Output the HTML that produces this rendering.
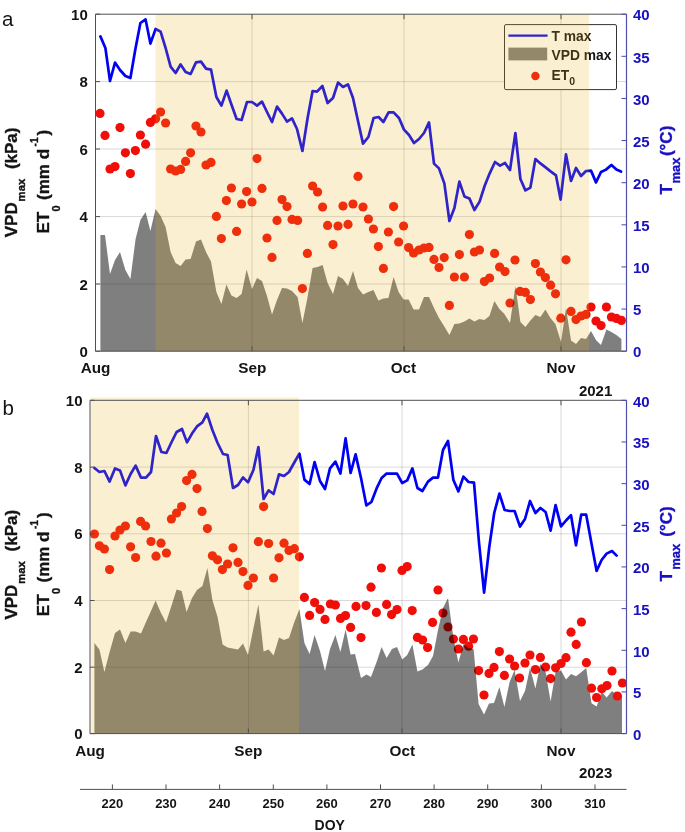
<!DOCTYPE html>
<html lang="en"><head><meta charset="utf-8"><title>Figure</title>
<style>html,body{margin:0;padding:0;background:#fff}svg{display:block}</style></head>
<body>
<svg width="685" height="832" viewBox="0 0 685 832">
<rect width="685" height="832" fill="#fff"/>
<g id="pa">
<line x1="252" y1="14.2" x2="252" y2="351.2" stroke="#000" stroke-opacity="0.15" stroke-width="1"/>
<line x1="404" y1="14.2" x2="404" y2="351.2" stroke="#000" stroke-opacity="0.15" stroke-width="1"/>
<line x1="561" y1="14.2" x2="561" y2="351.2" stroke="#000" stroke-opacity="0.15" stroke-width="1"/>
<line x1="95.5" y1="81.6" x2="626.5" y2="81.6" stroke="#000" stroke-opacity="0.15" stroke-width="1"/>
<line x1="95.5" y1="149" x2="626.5" y2="149" stroke="#000" stroke-opacity="0.15" stroke-width="1"/>
<line x1="95.5" y1="216.6" x2="626.5" y2="216.6" stroke="#000" stroke-opacity="0.15" stroke-width="1"/>
<line x1="95.5" y1="284" x2="626.5" y2="284" stroke="#000" stroke-opacity="0.15" stroke-width="1"/>
<g fill="#f00e08"><circle cx="100" cy="113.4" r="4.6"/><circle cx="105" cy="135.4" r="4.6"/><circle cx="110" cy="169" r="4.6"/><circle cx="115" cy="166.6" r="4.6"/><circle cx="120" cy="127.6" r="4.6"/><circle cx="125.4" cy="152.8" r="4.6"/><circle cx="130.4" cy="173.6" r="4.6"/><circle cx="135.4" cy="150.6" r="4.6"/><circle cx="140.4" cy="135" r="4.6"/><circle cx="145.6" cy="144.2" r="4.6"/><circle cx="150.4" cy="122.4" r="4.6"/><circle cx="155.6" cy="118.8" r="4.6"/><circle cx="160.6" cy="112" r="4.6"/><circle cx="165.6" cy="123" r="4.6"/><circle cx="170.6" cy="169" r="4.6"/><circle cx="175.6" cy="171" r="4.6"/><circle cx="180.6" cy="169.4" r="4.6"/><circle cx="185.6" cy="161.4" r="4.6"/><circle cx="190.6" cy="152.8" r="4.6"/><circle cx="196" cy="126" r="4.6"/><circle cx="201" cy="132" r="4.6"/><circle cx="206" cy="165" r="4.6"/><circle cx="211" cy="162.4" r="4.6"/><circle cx="216.4" cy="216.4" r="4.6"/><circle cx="221.4" cy="238.6" r="4.6"/><circle cx="226.4" cy="200.6" r="4.6"/><circle cx="231.4" cy="188" r="4.6"/><circle cx="236.6" cy="231.4" r="4.6"/><circle cx="241.6" cy="204" r="4.6"/><circle cx="246.6" cy="191.6" r="4.6"/><circle cx="252" cy="202" r="4.6"/><circle cx="257" cy="158.6" r="4.6"/><circle cx="262" cy="188.4" r="4.6"/><circle cx="267" cy="238" r="4.6"/><circle cx="272" cy="257.4" r="4.6"/><circle cx="277" cy="220.4" r="4.6"/><circle cx="282" cy="199.6" r="4.6"/><circle cx="287" cy="206.6" r="4.6"/><circle cx="292" cy="219.4" r="4.6"/><circle cx="297.6" cy="220.4" r="4.6"/><circle cx="302.4" cy="288.6" r="4.6"/><circle cx="307.4" cy="253.4" r="4.6"/><circle cx="312.6" cy="186" r="4.6"/><circle cx="317.6" cy="192" r="4.6"/><circle cx="322.6" cy="207" r="4.6"/><circle cx="327.6" cy="225.4" r="4.6"/><circle cx="333" cy="244.6" r="4.6"/><circle cx="338" cy="226" r="4.6"/><circle cx="343" cy="206" r="4.6"/><circle cx="348" cy="224.4" r="4.6"/><circle cx="353" cy="204" r="4.6"/><circle cx="358" cy="176.4" r="4.6"/><circle cx="363" cy="207" r="4.6"/><circle cx="368.4" cy="219" r="4.6"/><circle cx="373.4" cy="229" r="4.6"/><circle cx="378.4" cy="246.6" r="4.6"/><circle cx="383.4" cy="268.4" r="4.6"/><circle cx="388.4" cy="232" r="4.6"/><circle cx="393.6" cy="206.6" r="4.6"/><circle cx="398.6" cy="242" r="4.6"/><circle cx="403.6" cy="226" r="4.6"/><circle cx="408.6" cy="247.6" r="4.6"/><circle cx="413.6" cy="253" r="4.6"/><circle cx="419" cy="250" r="4.6"/><circle cx="424" cy="248" r="4.6"/><circle cx="429" cy="247.4" r="4.6"/><circle cx="434" cy="259.4" r="4.6"/><circle cx="439" cy="267.5" r="4.6"/><circle cx="444.2" cy="257.6" r="4.6"/><circle cx="449.4" cy="305.4" r="4.6"/><circle cx="454.4" cy="277" r="4.6"/><circle cx="459.4" cy="254.6" r="4.6"/><circle cx="464.4" cy="277" r="4.6"/><circle cx="469.4" cy="234.5" r="4.6"/><circle cx="474.4" cy="252" r="4.6"/><circle cx="479.5" cy="250" r="4.6"/><circle cx="484.4" cy="281.6" r="4.6"/><circle cx="489.6" cy="278" r="4.6"/><circle cx="494.6" cy="253.4" r="4.6"/><circle cx="499.6" cy="267" r="4.6"/><circle cx="505" cy="271.6" r="4.6"/><circle cx="510" cy="303" r="4.6"/><circle cx="515" cy="260" r="4.6"/><circle cx="520" cy="291.4" r="4.6"/><circle cx="525.4" cy="292.4" r="4.6"/><circle cx="530.4" cy="299.6" r="4.6"/><circle cx="535.4" cy="263.6" r="4.6"/><circle cx="540.4" cy="272" r="4.6"/><circle cx="545.4" cy="277.6" r="4.6"/><circle cx="550.6" cy="285.2" r="4.6"/><circle cx="555.5" cy="293.8" r="4.6"/><circle cx="560.8" cy="318.2" r="4.6"/><circle cx="566" cy="259.8" r="4.6"/><circle cx="571" cy="311.4" r="4.6"/><circle cx="576" cy="319.6" r="4.6"/><circle cx="581" cy="316" r="4.6"/><circle cx="586" cy="314.4" r="4.6"/><circle cx="591" cy="307" r="4.6"/><circle cx="596" cy="321" r="4.6"/><circle cx="601" cy="325.6" r="4.6"/><circle cx="606.4" cy="307" r="4.6"/><circle cx="611.4" cy="317" r="4.6"/><circle cx="616.4" cy="318.4" r="4.6"/><circle cx="621.4" cy="320.4" r="4.6"/></g>
<polygon points="100.4,351.2 100.4,235.0 105.0,235.0 110.0,274.0 115.0,260.0 120.0,252.0 125.4,270.0 130.4,279.0 135.6,239.0 140.4,220.0 145.6,212.0 150.4,231.0 155.6,209.0 160.6,216.0 165.6,227.0 170.6,252.0 175.6,263.0 180.6,266.0 185.6,259.6 190.6,259.0 196.0,241.6 201.0,239.6 206.0,252.0 211.0,261.6 216.4,292.0 221.4,304.0 226.4,284.4 231.4,295.6 236.6,298.0 241.6,294.0 246.6,269.6 252.0,289.0 257.0,278.0 262.0,281.0 267.0,296.0 272.0,314.4 277.0,300.0 282.0,288.0 287.0,288.6 292.0,291.0 297.6,297.0 302.4,323.0 307.4,298.0 312.6,268.0 317.6,267.0 322.6,265.0 327.6,283.0 333.0,294.0 338.0,276.0 343.0,279.0 348.0,286.0 353.0,271.0 358.0,288.0 363.0,294.6 368.4,292.0 373.4,290.0 378.4,300.4 383.4,298.4 388.4,298.0 393.6,277.0 398.6,292.0 403.6,299.6 408.6,299.6 413.6,309.6 419.0,309.6 424.0,297.0 429.0,297.0 434.0,308.0 439.0,318.0 444.0,326.0 449.4,335.0 454.4,324.0 459.4,323.6 464.4,321.6 469.4,318.4 474.4,321.6 479.4,319.0 484.4,320.0 489.4,316.0 494.4,301.0 499.4,309.0 504.4,314.0 510.0,323.0 515.4,286.0 520.4,322.0 525.4,327.0 530.4,320.4 535.4,315.0 540.4,317.0 545.4,309.6 550.4,318.0 555.4,324.0 561.0,342.0 566.0,308.0 571.0,340.4 576.0,344.0 581.0,338.0 586.0,339.0 591.0,331.0 596.0,340.0 601.0,345.0 606.4,329.4 611.4,332.0 616.4,335.0 621.4,339.0 621.4,351.2" fill="#000" fill-opacity="0.5"/>
<polyline points="100.4,36.4 105.4,48.0 110.0,81.0 115.0,62.6 120.0,70.0 125.4,76.0 130.4,78.0 135.4,49.0 140.4,23.0 145.6,19.4 150.4,43.6 155.6,29.0 160.6,31.6 165.6,48.0 170.6,66.6 175.6,73.0 180.6,64.4 185.6,72.0 190.6,74.0 196.0,62.4 201.0,61.6 206.0,68.6 211.0,69.6 216.4,97.0 221.4,105.6 226.6,90.6 231.6,105.0 236.6,119.0 241.6,120.0 247.0,102.0 252.0,102.0 257.0,105.6 262.0,101.6 267.0,112.0 272.0,122.0 277.0,106.6 282.0,113.6 287.0,121.6 292.0,118.4 297.0,129.0 302.4,151.0 307.6,118.0 312.6,91.0 317.0,91.6 322.4,86.0 327.6,103.0 333.0,98.0 338.0,82.6 343.0,87.0 348.0,84.4 353.0,98.0 358.0,121.0 363.0,143.6 368.4,137.0 373.6,118.0 378.6,117.0 383.4,122.0 388.6,112.4 393.6,112.4 399.0,118.0 404.0,129.6 409.0,135.0 414.0,143.0 419.0,139.0 424.0,133.0 429.0,122.4 434.0,163.6 439.0,168.4 444.4,183.6 449.4,221.0 454.4,208.0 459.4,181.6 464.4,196.4 469.4,198.4 474.4,210.0 479.6,201.6 484.6,186.0 489.6,173.6 495.0,162.0 500.0,165.6 505.0,163.0 510.0,170.0 515.4,133.0 520.4,179.0 525.4,190.4 530.4,187.6 535.4,159.0 540.4,163.4 545.6,167.4 550.6,171.4 556.0,175.4 560.6,199.6 566.0,154.4 571.0,181.0 576.0,168.0 581.0,176.0 586.0,171.0 591.0,170.6 596.0,182.4 601.0,172.0 606.0,169.6 611.4,165.0 616.4,169.6 621.0,171.6" fill="none" stroke="#0000f5" stroke-width="2.7" stroke-linejoin="round" stroke-linecap="round"/>
<rect x="504.5" y="24.6" width="112" height="65" rx="1.5" fill="#fff" stroke="#333" stroke-width="1"/>
<line x1="508.4" y1="35.6" x2="547.6" y2="35.6" stroke="#0000f5" stroke-width="2.2"/>
<rect x="508.4" y="47.6" width="38.8" height="12.8" fill="#7f7f7f"/>
<circle cx="535.4" cy="76" r="4.2" fill="#f00e08"/>
<text x="551.6" y="41.4" font-size="13.8" font-family="Liberation Sans, Arial, Helvetica, sans-serif" font-weight="bold" fill="#141414">T max</text>
<text x="551.6" y="60" font-size="13.8" font-family="Liberation Sans, Arial, Helvetica, sans-serif" font-weight="bold" fill="#141414">VPD max</text>
<text x="551.6" y="79.6" font-size="13.8" font-family="Liberation Sans, Arial, Helvetica, sans-serif" font-weight="bold" fill="#141414">ET<tspan font-size="10.5" dy="5.5">0</tspan></text>
<rect x="155.5" y="14.2" width="433.5" height="337.0" fill="rgb(237,177,32)" fill-opacity="0.2"/>
<path d="M95.5 351.2V14.2H626.5" fill="none" stroke="#505050" stroke-width="1"/>
<path d="M95.5 351.2H626.5" fill="none" stroke="#505050" stroke-width="1"/>
<line x1="626.5" y1="14.2" x2="626.5" y2="351.2" stroke="#5050a8" stroke-width="1.2"/>
<line x1="95.5" y1="81.6" x2="100.0" y2="81.6" stroke="#505050" stroke-width="1"/>
<line x1="95.5" y1="149" x2="100.0" y2="149" stroke="#505050" stroke-width="1"/>
<line x1="95.5" y1="216.6" x2="100.0" y2="216.6" stroke="#505050" stroke-width="1"/>
<line x1="95.5" y1="284" x2="100.0" y2="284" stroke="#505050" stroke-width="1"/>
<line x1="95.5" y1="14.2" x2="100.0" y2="14.2" stroke="#505050" stroke-width="1"/>
<line x1="95.5" y1="351.2" x2="100.0" y2="351.2" stroke="#505050" stroke-width="1"/>
<line x1="252" y1="14.2" x2="252" y2="19.2" stroke="#505050" stroke-width="1"/>
<line x1="252" y1="351.2" x2="252" y2="346.2" stroke="#505050" stroke-width="1"/>
<line x1="404" y1="14.2" x2="404" y2="19.2" stroke="#505050" stroke-width="1"/>
<line x1="404" y1="351.2" x2="404" y2="346.2" stroke="#505050" stroke-width="1"/>
<line x1="561" y1="14.2" x2="561" y2="19.2" stroke="#505050" stroke-width="1"/>
<line x1="561" y1="351.2" x2="561" y2="346.2" stroke="#505050" stroke-width="1"/>
<line x1="626.5" y1="14.2" x2="621.5" y2="14.2" stroke="#4848a8" stroke-width="1"/>
<line x1="626.5" y1="56.325" x2="621.5" y2="56.325" stroke="#4848a8" stroke-width="1"/>
<line x1="626.5" y1="98.45" x2="621.5" y2="98.45" stroke="#4848a8" stroke-width="1"/>
<line x1="626.5" y1="140.575" x2="621.5" y2="140.575" stroke="#4848a8" stroke-width="1"/>
<line x1="626.5" y1="182.7" x2="621.5" y2="182.7" stroke="#4848a8" stroke-width="1"/>
<line x1="626.5" y1="224.825" x2="621.5" y2="224.825" stroke="#4848a8" stroke-width="1"/>
<line x1="626.5" y1="266.95" x2="621.5" y2="266.95" stroke="#4848a8" stroke-width="1"/>
<line x1="626.5" y1="309.075" x2="621.5" y2="309.075" stroke="#4848a8" stroke-width="1"/>
<line x1="626.5" y1="351.2" x2="621.5" y2="351.2" stroke="#4848a8" stroke-width="1"/>
<text x="87.8" y="19.8" text-anchor="end" font-size="15" font-family="Liberation Sans, Arial, Helvetica, sans-serif" font-weight="bold" fill="#141414">10</text>
<text x="87.8" y="87.2" text-anchor="end" font-size="15" font-family="Liberation Sans, Arial, Helvetica, sans-serif" font-weight="bold" fill="#141414">8</text>
<text x="87.8" y="154.6" text-anchor="end" font-size="15" font-family="Liberation Sans, Arial, Helvetica, sans-serif" font-weight="bold" fill="#141414">6</text>
<text x="87.8" y="222.2" text-anchor="end" font-size="15" font-family="Liberation Sans, Arial, Helvetica, sans-serif" font-weight="bold" fill="#141414">4</text>
<text x="87.8" y="289.6" text-anchor="end" font-size="15" font-family="Liberation Sans, Arial, Helvetica, sans-serif" font-weight="bold" fill="#141414">2</text>
<text x="87.8" y="356.8" text-anchor="end" font-size="15" font-family="Liberation Sans, Arial, Helvetica, sans-serif" font-weight="bold" fill="#141414">0</text>
<text x="633.0" y="20.4" font-size="15" font-family="Liberation Sans, Arial, Helvetica, sans-serif" font-weight="bold" fill="#1810c2">40</text>
<text x="633.0" y="62.5" font-size="15" font-family="Liberation Sans, Arial, Helvetica, sans-serif" font-weight="bold" fill="#1810c2">35</text>
<text x="633.0" y="104.7" font-size="15" font-family="Liberation Sans, Arial, Helvetica, sans-serif" font-weight="bold" fill="#1810c2">30</text>
<text x="633.0" y="146.8" font-size="15" font-family="Liberation Sans, Arial, Helvetica, sans-serif" font-weight="bold" fill="#1810c2">25</text>
<text x="633.0" y="188.9" font-size="15" font-family="Liberation Sans, Arial, Helvetica, sans-serif" font-weight="bold" fill="#1810c2">20</text>
<text x="633.0" y="231.0" font-size="15" font-family="Liberation Sans, Arial, Helvetica, sans-serif" font-weight="bold" fill="#1810c2">15</text>
<text x="633.0" y="273.1" font-size="15" font-family="Liberation Sans, Arial, Helvetica, sans-serif" font-weight="bold" fill="#1810c2">10</text>
<text x="633.0" y="315.3" font-size="15" font-family="Liberation Sans, Arial, Helvetica, sans-serif" font-weight="bold" fill="#1810c2">5</text>
<text x="633.0" y="357.4" font-size="15" font-family="Liberation Sans, Arial, Helvetica, sans-serif" font-weight="bold" fill="#1810c2">0</text>
<text x="95.5" y="373.2" text-anchor="middle" font-size="15.3" font-family="Liberation Sans, Arial, Helvetica, sans-serif" font-weight="bold" fill="#141414">Aug</text>
<text x="252.4" y="373.2" text-anchor="middle" font-size="15.3" font-family="Liberation Sans, Arial, Helvetica, sans-serif" font-weight="bold" fill="#141414">Sep</text>
<text x="403.4" y="373.2" text-anchor="middle" font-size="15.3" font-family="Liberation Sans, Arial, Helvetica, sans-serif" font-weight="bold" fill="#141414">Oct</text>
<text x="561" y="373.2" text-anchor="middle" font-size="15.3" font-family="Liberation Sans, Arial, Helvetica, sans-serif" font-weight="bold" fill="#141414">Nov</text>
<text x="612.3" y="395.6" text-anchor="end" font-size="15" font-family="Liberation Sans, Arial, Helvetica, sans-serif" font-weight="bold" fill="#141414">2021</text>
<g transform="translate(17.3,237.3) rotate(-90)" font-family="Liberation Sans, Arial, Helvetica, sans-serif" font-weight="bold" fill="#141414" stroke="#141414" stroke-width="0.35"><text x="0" y="0" font-size="17">VPD</text><text x="35.9" y="7.8" font-size="11.3">max</text><text x="68.2" y="0" font-size="17">(kPa)</text></g>
<g transform="translate(49.4,233.6) rotate(-90)" font-family="Liberation Sans, Arial, Helvetica, sans-serif" font-weight="bold" fill="#141414" stroke="#141414" stroke-width="0.35"><text x="0" y="0" font-size="17">ET</text><text x="22.2" y="10.6" font-size="11">0</text><text x="33.7" y="0" font-size="17">(mm d</text><text x="87.2" y="-11.2" font-size="10">-1</text><text x="98.2" y="0" font-size="17">)</text></g>
<g transform="translate(671.7,194.6) rotate(-90)" font-family="Liberation Sans, Arial, Helvetica, sans-serif" font-weight="bold" fill="#1810c2" stroke="#1810c2" stroke-width="0.35"><text x="0" y="0" font-size="17">T</text><text x="11" y="8.3" font-size="13">max</text><text x="38.5" y="0" font-size="17">(°C)</text></g>
</g>
<g id="pb">
<line x1="248.4" y1="400.3" x2="248.4" y2="733.6" stroke="#000" stroke-opacity="0.15" stroke-width="1"/>
<line x1="402" y1="400.3" x2="402" y2="733.6" stroke="#000" stroke-opacity="0.15" stroke-width="1"/>
<line x1="561" y1="400.3" x2="561" y2="733.6" stroke="#000" stroke-opacity="0.15" stroke-width="1"/>
<line x1="90" y1="467.1" x2="626.5" y2="467.1" stroke="#000" stroke-opacity="0.15" stroke-width="1"/>
<line x1="90" y1="533.8" x2="626.5" y2="533.8" stroke="#000" stroke-opacity="0.15" stroke-width="1"/>
<line x1="90" y1="600.5" x2="626.5" y2="600.5" stroke="#000" stroke-opacity="0.15" stroke-width="1"/>
<line x1="90" y1="667.2" x2="626.5" y2="667.2" stroke="#000" stroke-opacity="0.15" stroke-width="1"/>
<g fill="#f00e08"><circle cx="94.4" cy="534" r="4.6"/><circle cx="99.4" cy="545.8" r="4.6"/><circle cx="104.4" cy="549" r="4.6"/><circle cx="109.6" cy="569.6" r="4.6"/><circle cx="115" cy="536" r="4.6"/><circle cx="120" cy="530" r="4.6"/><circle cx="125.4" cy="526" r="4.6"/><circle cx="130.6" cy="546.8" r="4.6"/><circle cx="135.6" cy="557.5" r="4.6"/><circle cx="140.6" cy="521.4" r="4.6"/><circle cx="145.6" cy="526" r="4.6"/><circle cx="151" cy="541.5" r="4.6"/><circle cx="156" cy="556.2" r="4.6"/><circle cx="161" cy="543.2" r="4.6"/><circle cx="166.4" cy="553" r="4.6"/><circle cx="171.4" cy="519" r="4.6"/><circle cx="176.6" cy="513" r="4.6"/><circle cx="181.6" cy="506.6" r="4.6"/><circle cx="186.6" cy="480.6" r="4.6"/><circle cx="192" cy="474.4" r="4.6"/><circle cx="197" cy="488.6" r="4.6"/><circle cx="202" cy="511.4" r="4.6"/><circle cx="207.4" cy="528.6" r="4.6"/><circle cx="212.4" cy="555.8" r="4.6"/><circle cx="217.5" cy="559.8" r="4.6"/><circle cx="222.4" cy="569.6" r="4.6"/><circle cx="227.6" cy="564" r="4.6"/><circle cx="233" cy="547.8" r="4.6"/><circle cx="238" cy="562.4" r="4.6"/><circle cx="243" cy="571.6" r="4.6"/><circle cx="248" cy="585.4" r="4.6"/><circle cx="253.4" cy="578" r="4.6"/><circle cx="258.4" cy="541.7" r="4.6"/><circle cx="263.6" cy="506.6" r="4.6"/><circle cx="268.6" cy="543.5" r="4.6"/><circle cx="273.6" cy="578" r="4.6"/><circle cx="279" cy="557.8" r="4.6"/><circle cx="284" cy="543.2" r="4.6"/><circle cx="289" cy="550.4" r="4.6"/><circle cx="294.4" cy="548.7" r="4.6"/><circle cx="299.4" cy="556.8" r="4.6"/><circle cx="304.4" cy="597.4" r="4.6"/><circle cx="309.6" cy="615.4" r="4.6"/><circle cx="314.6" cy="602.6" r="4.6"/><circle cx="320" cy="609.4" r="4.6"/><circle cx="325" cy="619.4" r="4.6"/><circle cx="330.4" cy="604" r="4.6"/><circle cx="335.4" cy="605" r="4.6"/><circle cx="340.5" cy="618.4" r="4.6"/><circle cx="345.5" cy="615.6" r="4.6"/><circle cx="350.6" cy="627.4" r="4.6"/><circle cx="356" cy="606.4" r="4.6"/><circle cx="361" cy="637.6" r="4.6"/><circle cx="366" cy="605.6" r="4.6"/><circle cx="371" cy="587.2" r="4.6"/><circle cx="376.4" cy="612.4" r="4.6"/><circle cx="381.4" cy="568" r="4.6"/><circle cx="386.6" cy="604.4" r="4.6"/><circle cx="391.6" cy="614.6" r="4.6"/><circle cx="397" cy="609.6" r="4.6"/><circle cx="402" cy="570.4" r="4.6"/><circle cx="407.2" cy="566.6" r="4.6"/><circle cx="412.2" cy="610.6" r="4.6"/><circle cx="417.4" cy="637.4" r="4.6"/><circle cx="422.6" cy="640" r="4.6"/><circle cx="427.6" cy="647.6" r="4.6"/><circle cx="432.6" cy="622.4" r="4.6"/><circle cx="438" cy="590" r="4.6"/><circle cx="443" cy="613" r="4.6"/><circle cx="448" cy="627" r="4.6"/><circle cx="453.4" cy="639" r="4.6"/><circle cx="458.4" cy="649" r="4.6"/><circle cx="463.4" cy="639.4" r="4.6"/><circle cx="468.6" cy="646.2" r="4.6"/><circle cx="473.5" cy="639" r="4.6"/><circle cx="478.6" cy="670.6" r="4.6"/><circle cx="484" cy="695" r="4.6"/><circle cx="489" cy="673.4" r="4.6"/><circle cx="494" cy="667.4" r="4.6"/><circle cx="499.4" cy="651.6" r="4.6"/><circle cx="504.4" cy="675.4" r="4.6"/><circle cx="509.6" cy="659" r="4.6"/><circle cx="514.6" cy="666" r="4.6"/><circle cx="519.6" cy="678" r="4.6"/><circle cx="525" cy="663" r="4.6"/><circle cx="530" cy="655" r="4.6"/><circle cx="535.4" cy="669.6" r="4.6"/><circle cx="540.4" cy="657.4" r="4.6"/><circle cx="545.6" cy="667" r="4.6"/><circle cx="550.6" cy="678.6" r="4.6"/><circle cx="555.6" cy="667.8" r="4.6"/><circle cx="561" cy="663.5" r="4.6"/><circle cx="566" cy="657.7" r="4.6"/><circle cx="571" cy="632.2" r="4.6"/><circle cx="576.2" cy="644.4" r="4.6"/><circle cx="581.4" cy="622" r="4.6"/></g>
<polygon points="94.4,733.6 94.4,643.0 99.4,649.6 104.4,672.0 109.6,652.0 115.0,633.0 120.0,629.4 125.4,643.0 130.6,631.4 135.6,631.4 141.0,633.6 146.0,622.0 151.0,611.0 155.6,600.6 161.0,613.0 166.0,622.4 171.4,606.0 176.6,589.6 181.6,591.0 186.6,612.0 192.0,598.0 197.0,590.0 202.4,586.0 207.4,568.0 212.4,600.0 217.6,617.0 222.6,644.4 227.6,647.4 232.6,648.6 238.0,649.4 243.0,643.6 248.0,655.0 253.2,629.6 258.4,604.4 263.6,651.6 268.6,649.4 273.6,655.4 279.0,637.6 284.0,640.0 289.0,638.0 294.0,623.0 299.4,609.0 304.4,643.0 309.6,654.0 314.6,635.0 320.0,651.0 325.0,671.0 330.0,649.0 335.4,635.0 340.4,652.0 345.6,629.4 350.6,654.4 355.0,654.0 361.0,678.0 366.4,674.4 371.0,677.0 376.6,662.0 381.6,647.0 386.6,658.0 392.0,649.0 397.0,647.0 402.2,659.4 407.2,655.0 412.4,644.4 417.4,671.4 422.4,669.4 428.0,665.0 433.0,656.0 438.0,630.0 443.0,608.0 448.0,598.0 453.4,638.0 458.4,662.4 463.4,644.0 468.6,648.0 473.6,649.0 478.6,704.0 484.0,714.6 489.0,703.6 494.0,703.0 499.4,687.0 504.4,707.0 509.6,682.0 514.6,670.0 520.0,701.0 525.0,691.0 530.0,668.0 535.4,688.4 540.4,664.0 545.6,672.0 550.6,701.6 555.6,672.0 561.0,670.6 566.0,679.4 571.0,674.0 576.0,676.2 581.2,672.2 586.2,668.0 591.5,703.3 596.6,706.4 601.8,692.0 606.6,697.4 612.0,691.0 617.0,695.6 622.0,696.0 622.0,733.6" fill="#000" fill-opacity="0.5"/>
<g fill="#f00e08"><circle cx="586.4" cy="662.7" r="4.6"/><circle cx="591.5" cy="688.2" r="4.6"/><circle cx="596.6" cy="697.5" r="4.6"/><circle cx="601.8" cy="688.8" r="4.6"/><circle cx="607" cy="685.6" r="4.6"/><circle cx="612" cy="671" r="4.6"/><circle cx="617.4" cy="696" r="4.6"/><circle cx="622.4" cy="683" r="4.6"/></g>
<polyline points="94.4,468.0 99.4,472.0 104.4,471.0 109.6,481.6 115.0,468.4 120.0,470.4 125.4,485.4 130.6,474.0 135.6,465.6 141.0,477.6 146.0,477.6 151.0,472.0 156.0,436.0 161.4,452.0 166.4,453.0 171.6,442.0 176.6,432.0 182.0,429.0 187.0,442.4 192.0,433.6 197.0,426.4 202.4,422.4 207.0,413.6 212.4,430.0 217.6,443.0 223.0,454.0 227.6,455.0 233.0,488.0 238.0,485.0 243.0,477.4 248.0,482.4 253.4,470.0 258.4,447.0 263.6,499.0 268.6,490.4 273.6,494.0 279.0,474.4 284.0,476.0 289.0,472.0 294.0,463.0 299.4,453.6 304.4,479.6 309.6,484.0 314.6,462.0 320.0,481.0 325.0,489.0 330.0,468.4 335.4,461.6 340.4,473.6 345.6,438.4 350.6,473.0 355.6,454.4 361.0,478.0 366.4,505.4 371.4,502.0 376.6,488.4 381.6,478.0 386.6,473.6 392.0,473.6 397.0,473.6 402.2,483.0 407.2,480.4 412.4,468.4 417.4,488.0 422.4,491.0 428.0,481.6 433.0,477.6 438.0,477.6 443.0,450.0 448.0,441.0 453.4,480.0 458.4,491.4 463.4,476.6 468.6,482.0 474.0,482.6 479.0,542.5 484.1,592.6 489.2,547.5 494.2,513.0 499.4,493.6 504.6,510.0 509.6,511.0 514.6,511.0 520.0,526.6 525.0,519.0 530.0,501.0 535.4,513.0 540.4,508.0 545.6,512.0 550.6,530.6 555.6,505.0 561.0,526.4 566.0,520.5 571.0,515.2 576.0,545.3 581.2,514.7 586.2,514.7 591.5,543.5 596.6,571.0 601.6,560.0 606.6,553.6 612.0,551.0 616.6,555.6" fill="none" stroke="#0000f5" stroke-width="2.7" stroke-linejoin="round" stroke-linecap="round"/>
<rect x="90.8" y="397.5" width="208.2" height="336.1" fill="rgb(237,177,32)" fill-opacity="0.2"/>
<path d="M90 733.6V400.3H626.5" fill="none" stroke="#505050" stroke-width="1"/>
<path d="M90 733.6H626.5" fill="none" stroke="#505050" stroke-width="1"/>
<line x1="626.5" y1="400.3" x2="626.5" y2="733.6" stroke="#5050a8" stroke-width="1.2"/>
<line x1="90" y1="467.1" x2="94.5" y2="467.1" stroke="#505050" stroke-width="1"/>
<line x1="90" y1="533.8" x2="94.5" y2="533.8" stroke="#505050" stroke-width="1"/>
<line x1="90" y1="600.5" x2="94.5" y2="600.5" stroke="#505050" stroke-width="1"/>
<line x1="90" y1="667.2" x2="94.5" y2="667.2" stroke="#505050" stroke-width="1"/>
<line x1="90" y1="400.3" x2="94.5" y2="400.3" stroke="#505050" stroke-width="1"/>
<line x1="90" y1="733.6" x2="94.5" y2="733.6" stroke="#505050" stroke-width="1"/>
<line x1="248.4" y1="400.3" x2="248.4" y2="405.3" stroke="#505050" stroke-width="1"/>
<line x1="248.4" y1="733.6" x2="248.4" y2="728.6" stroke="#505050" stroke-width="1"/>
<line x1="402" y1="400.3" x2="402" y2="405.3" stroke="#505050" stroke-width="1"/>
<line x1="402" y1="733.6" x2="402" y2="728.6" stroke="#505050" stroke-width="1"/>
<line x1="561" y1="400.3" x2="561" y2="405.3" stroke="#505050" stroke-width="1"/>
<line x1="561" y1="733.6" x2="561" y2="728.6" stroke="#505050" stroke-width="1"/>
<line x1="626.5" y1="400.3" x2="621.5" y2="400.3" stroke="#4848a8" stroke-width="1"/>
<line x1="626.5" y1="441.96250000000003" x2="621.5" y2="441.96250000000003" stroke="#4848a8" stroke-width="1"/>
<line x1="626.5" y1="483.625" x2="621.5" y2="483.625" stroke="#4848a8" stroke-width="1"/>
<line x1="626.5" y1="525.2875" x2="621.5" y2="525.2875" stroke="#4848a8" stroke-width="1"/>
<line x1="626.5" y1="566.95" x2="621.5" y2="566.95" stroke="#4848a8" stroke-width="1"/>
<line x1="626.5" y1="608.6125" x2="621.5" y2="608.6125" stroke="#4848a8" stroke-width="1"/>
<line x1="626.5" y1="650.275" x2="621.5" y2="650.275" stroke="#4848a8" stroke-width="1"/>
<line x1="626.5" y1="691.9375" x2="621.5" y2="691.9375" stroke="#4848a8" stroke-width="1"/>
<line x1="626.5" y1="733.6" x2="621.5" y2="733.6" stroke="#4848a8" stroke-width="1"/>
<text x="82.5" y="405.9" text-anchor="end" font-size="15" font-family="Liberation Sans, Arial, Helvetica, sans-serif" font-weight="bold" fill="#141414">10</text>
<text x="82.5" y="472.7" text-anchor="end" font-size="15" font-family="Liberation Sans, Arial, Helvetica, sans-serif" font-weight="bold" fill="#141414">8</text>
<text x="82.5" y="539.4" text-anchor="end" font-size="15" font-family="Liberation Sans, Arial, Helvetica, sans-serif" font-weight="bold" fill="#141414">6</text>
<text x="82.5" y="606.1" text-anchor="end" font-size="15" font-family="Liberation Sans, Arial, Helvetica, sans-serif" font-weight="bold" fill="#141414">4</text>
<text x="82.5" y="672.8" text-anchor="end" font-size="15" font-family="Liberation Sans, Arial, Helvetica, sans-serif" font-weight="bold" fill="#141414">2</text>
<text x="82.5" y="739.2" text-anchor="end" font-size="15" font-family="Liberation Sans, Arial, Helvetica, sans-serif" font-weight="bold" fill="#141414">0</text>
<text x="633.0" y="406.5" font-size="15" font-family="Liberation Sans, Arial, Helvetica, sans-serif" font-weight="bold" fill="#1810c2">40</text>
<text x="633.0" y="448.2" font-size="15" font-family="Liberation Sans, Arial, Helvetica, sans-serif" font-weight="bold" fill="#1810c2">35</text>
<text x="633.0" y="489.8" font-size="15" font-family="Liberation Sans, Arial, Helvetica, sans-serif" font-weight="bold" fill="#1810c2">30</text>
<text x="633.0" y="531.5" font-size="15" font-family="Liberation Sans, Arial, Helvetica, sans-serif" font-weight="bold" fill="#1810c2">25</text>
<text x="633.0" y="573.2" font-size="15" font-family="Liberation Sans, Arial, Helvetica, sans-serif" font-weight="bold" fill="#1810c2">20</text>
<text x="633.0" y="614.8" font-size="15" font-family="Liberation Sans, Arial, Helvetica, sans-serif" font-weight="bold" fill="#1810c2">15</text>
<text x="633.0" y="656.5" font-size="15" font-family="Liberation Sans, Arial, Helvetica, sans-serif" font-weight="bold" fill="#1810c2">10</text>
<text x="633.0" y="698.1" font-size="15" font-family="Liberation Sans, Arial, Helvetica, sans-serif" font-weight="bold" fill="#1810c2">5</text>
<text x="633.0" y="739.8" font-size="15" font-family="Liberation Sans, Arial, Helvetica, sans-serif" font-weight="bold" fill="#1810c2">0</text>
<text x="90" y="755.6" text-anchor="middle" font-size="15.3" font-family="Liberation Sans, Arial, Helvetica, sans-serif" font-weight="bold" fill="#141414">Aug</text>
<text x="248.4" y="755.6" text-anchor="middle" font-size="15.3" font-family="Liberation Sans, Arial, Helvetica, sans-serif" font-weight="bold" fill="#141414">Sep</text>
<text x="402.3" y="755.6" text-anchor="middle" font-size="15.3" font-family="Liberation Sans, Arial, Helvetica, sans-serif" font-weight="bold" fill="#141414">Oct</text>
<text x="561" y="755.6" text-anchor="middle" font-size="15.3" font-family="Liberation Sans, Arial, Helvetica, sans-serif" font-weight="bold" fill="#141414">Nov</text>
<text x="612.3" y="777.6" text-anchor="end" font-size="15" font-family="Liberation Sans, Arial, Helvetica, sans-serif" font-weight="bold" fill="#141414">2023</text>
<g transform="translate(17.3,619.6) rotate(-90)" font-family="Liberation Sans, Arial, Helvetica, sans-serif" font-weight="bold" fill="#141414" stroke="#141414" stroke-width="0.35"><text x="0" y="0" font-size="17">VPD</text><text x="35.9" y="7.8" font-size="11.3">max</text><text x="68.2" y="0" font-size="17">(kPa)</text></g>
<g transform="translate(49.4,616.2) rotate(-90)" font-family="Liberation Sans, Arial, Helvetica, sans-serif" font-weight="bold" fill="#141414" stroke="#141414" stroke-width="0.35"><text x="0" y="0" font-size="17">ET</text><text x="22.2" y="10.6" font-size="11">0</text><text x="33.7" y="0" font-size="17">(mm d</text><text x="87.2" y="-11.2" font-size="10">-1</text><text x="98.2" y="0" font-size="17">)</text></g>
<g transform="translate(671.7,581.5) rotate(-90)" font-family="Liberation Sans, Arial, Helvetica, sans-serif" font-weight="bold" fill="#1810c2" stroke="#1810c2" stroke-width="0.35"><text x="0" y="0" font-size="17">T</text><text x="11.8" y="8.3" font-size="13">max</text><text x="44.8" y="0" font-size="17">(°C)</text></g>
</g>
<text x="2" y="25.8" font-size="20.5" font-family="Liberation Sans, Arial, sans-serif" fill="#141414">a</text>
<text x="2.5" y="415" font-size="20.5" font-family="Liberation Sans, Arial, sans-serif" fill="#141414">b</text>
<line x1="80" y1="789.4" x2="626.5" y2="789.4" stroke="#505050" stroke-width="1"/>
<line x1="112.4" y1="789.4" x2="112.4" y2="784.4" stroke="#505050" stroke-width="1"/>
<text x="112.4" y="808.4" text-anchor="middle" font-size="13" font-family="Liberation Sans, Arial, Helvetica, sans-serif" font-weight="bold" fill="#141414">220</text>
<line x1="166.0" y1="789.4" x2="166.0" y2="784.4" stroke="#505050" stroke-width="1"/>
<text x="166.0" y="808.4" text-anchor="middle" font-size="13" font-family="Liberation Sans, Arial, Helvetica, sans-serif" font-weight="bold" fill="#141414">230</text>
<line x1="219.6" y1="789.4" x2="219.6" y2="784.4" stroke="#505050" stroke-width="1"/>
<text x="219.6" y="808.4" text-anchor="middle" font-size="13" font-family="Liberation Sans, Arial, Helvetica, sans-serif" font-weight="bold" fill="#141414">240</text>
<line x1="273.3" y1="789.4" x2="273.3" y2="784.4" stroke="#505050" stroke-width="1"/>
<text x="273.3" y="808.4" text-anchor="middle" font-size="13" font-family="Liberation Sans, Arial, Helvetica, sans-serif" font-weight="bold" fill="#141414">250</text>
<line x1="326.9" y1="789.4" x2="326.9" y2="784.4" stroke="#505050" stroke-width="1"/>
<text x="326.9" y="808.4" text-anchor="middle" font-size="13" font-family="Liberation Sans, Arial, Helvetica, sans-serif" font-weight="bold" fill="#141414">260</text>
<line x1="380.5" y1="789.4" x2="380.5" y2="784.4" stroke="#505050" stroke-width="1"/>
<text x="380.5" y="808.4" text-anchor="middle" font-size="13" font-family="Liberation Sans, Arial, Helvetica, sans-serif" font-weight="bold" fill="#141414">270</text>
<line x1="434.1" y1="789.4" x2="434.1" y2="784.4" stroke="#505050" stroke-width="1"/>
<text x="434.1" y="808.4" text-anchor="middle" font-size="13" font-family="Liberation Sans, Arial, Helvetica, sans-serif" font-weight="bold" fill="#141414">280</text>
<line x1="487.7" y1="789.4" x2="487.7" y2="784.4" stroke="#505050" stroke-width="1"/>
<text x="487.7" y="808.4" text-anchor="middle" font-size="13" font-family="Liberation Sans, Arial, Helvetica, sans-serif" font-weight="bold" fill="#141414">290</text>
<line x1="541.4" y1="789.4" x2="541.4" y2="784.4" stroke="#505050" stroke-width="1"/>
<text x="541.4" y="808.4" text-anchor="middle" font-size="13" font-family="Liberation Sans, Arial, Helvetica, sans-serif" font-weight="bold" fill="#141414">300</text>
<line x1="595.0" y1="789.4" x2="595.0" y2="784.4" stroke="#505050" stroke-width="1"/>
<text x="595.0" y="808.4" text-anchor="middle" font-size="13" font-family="Liberation Sans, Arial, Helvetica, sans-serif" font-weight="bold" fill="#141414">310</text>
<text x="329.7" y="830" text-anchor="middle" font-size="14" font-family="Liberation Sans, Arial, Helvetica, sans-serif" font-weight="bold" fill="#141414">DOY</text>
</svg>
</body></html>
